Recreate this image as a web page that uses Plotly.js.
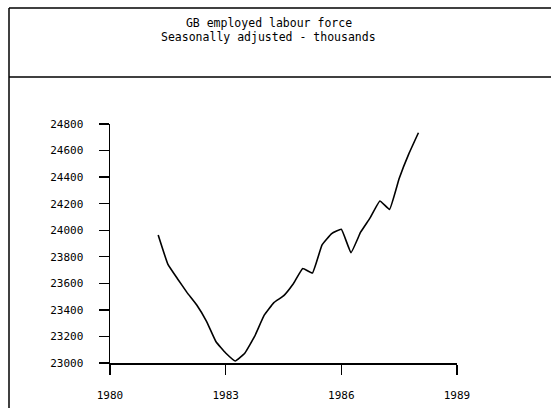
<!DOCTYPE html>
<html>
<head>
<meta charset="utf-8">
<script src="https://cdn.plot.ly/plotly-3.0.1.min.js"></script>
<style>html,body{margin:0;padding:0;background:#fff;}#chart{width:551px;height:408px;}</style>
</head>
<body>
<div id="chart"></div>
<script>
// Quarterly dates (decimal years) and employed labour force (thousands)
const quarters = [1981.25, 1981.5, 1981.75, 1982.0, 1982.25, 1982.5, 1982.75, 1983.0,
                  1983.25, 1983.5, 1983.75, 1984.0, 1984.25, 1984.5, 1984.75, 1985.0,
                  1985.25, 1985.5, 1985.75, 1986.0, 1986.25, 1986.5, 1986.75, 1987.0,
                  1987.25, 1987.5, 1987.75, 1988.0];
const employed = [23964, 23745, 23635, 23530, 23437, 23316, 23160, 23075,
                  23015, 23075, 23200, 23360, 23455, 23505, 23595, 23712,
                  23678, 23890, 23975, 24007, 23831, 23985, 24095, 24220,
                  24157, 24390, 24575, 24734];
const xTicks = [1980, 1983, 1986, 1989];
const yTicks = [23000, 23200, 23400, 23600, 23800, 24000, 24200, 24400, 24600, 24800];
const titleLines = ["GB employed labour force", "Seasonally adjusted - thousands"];

const font = "DejaVu Sans Mono, Liberation Mono, monospace";

const trace = {
  x: quarters, y: employed, type: "scatter", mode: "lines",
  line: {color: "#000", width: 1.6, shape: "spline", smoothing: 0.3},
  hoverinfo: "skip"
};

const layout = {
  width: 551, height: 408,
  margin: {l: 110, r: 94, t: 124, b: 45, pad: 0},
  paper_bgcolor: "#fff", plot_bgcolor: "#fff",
  showlegend: false,
  title: {
    text: titleLines[0],
    font: {family: font, size: 11.5, color: "#000"},
    xref: "container", x: 269/551, xanchor: "center",
    yref: "container", y: 1 - 23/408, yanchor: "middle"
  },
  annotations: [{
    text: titleLines[1], showarrow: false,
    font: {family: font, size: 11.5, color: "#000"},
    xref: "paper", x: (268-110)/347, xanchor: "center",
    yref: "paper", y: (363-37)/239, yanchor: "middle"
  }],
  xaxis: {
    range: [1980, 1989], tickvals: xTicks, ticktext: xTicks.map(String),
    showgrid: false, zeroline: false, showline: true, linecolor: "#000", linewidth: 1.5,
    ticks: "outside", ticklen: 10, tickwidth: 1.3, tickcolor: "#000",
    ticklabelstandoff: 11,
    tickfont: {family: font, size: 11, color: "#000"}, fixedrange: true
  },
  yaxis: {
    range: [23000, 24800], tickvals: yTicks, ticktext: yTicks.map(String),
    showgrid: false, zeroline: false, showline: true, linecolor: "#000", linewidth: 1.5,
    ticks: "outside", ticklen: 10, tickwidth: 1.3, tickcolor: "#000",
    ticklabelstandoff: 13,
    tickfont: {family: font, size: 11, color: "#000"}, fixedrange: true
  },
  shapes: [
    {type: "line", xref: "paper", yref: "paper", x0: (9-110)/347, x1: (9-110)/347, y0: 1.4854, y1: -0.3, line: {color: "#000", width: 1.5}},
    {type: "line", xref: "paper", yref: "paper", x0: (9-110)/347, x1: 1.4, y0: 1.4854, y1: 1.4854, line: {color: "#000", width: 1.5}},
    {type: "line", xref: "paper", yref: "paper", x0: (9-110)/347, x1: 1.4, y0: (363-77)/239, y1: (363-77)/239, line: {color: "#000", width: 1.5}}
  ]
};

Plotly.newPlot("chart", [trace], layout, {staticPlot: true, displayModeBar: false});
</script>
</body>
</html>
